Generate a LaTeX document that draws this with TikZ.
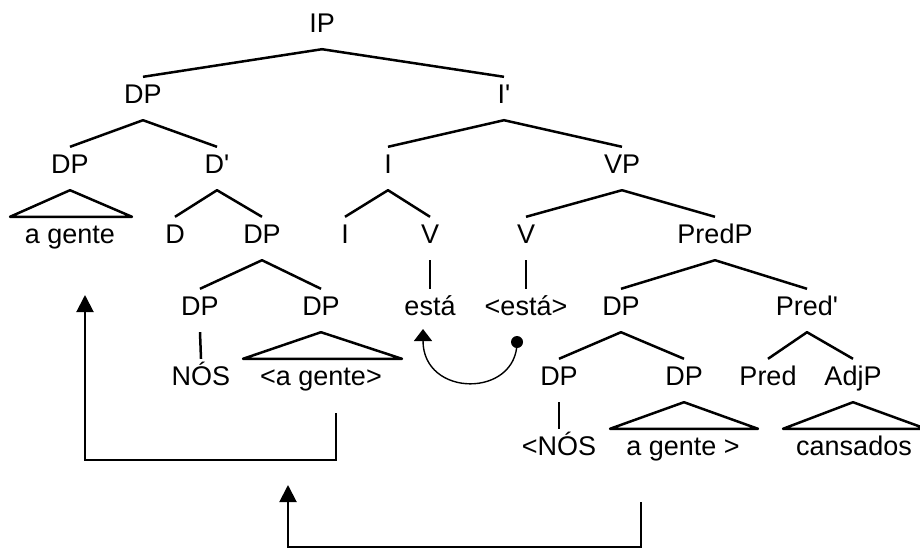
\documentclass[tikz,border=0pt]{standalone}
\usepackage{fontspec}
\setmainfont{Liberation Sans}[Ligatures=TeXOff]
\usetikzlibrary{arrows.meta,calc}
\begin{document}
\begin{tikzpicture}[x=1pt,y=-1pt,
  lab/.style={inner xsep=0pt, inner ysep=4pt, text height=22pt, text depth=13pt,
              anchor=base, font=\fontsize{27}{31}\selectfont},
  br/.style={line width=2.5pt, line join=round},
  mv/.style={line width=2pt, -{Triangle[width=17pt,length=17pt]}},
  mvarc/.style={line width=1.4pt, -{Triangle[width=18pt,length=12pt]}}]
\useasboundingbox (0,0) rectangle (920,550);
% row 1
\node[lab] (IP) at (322,32) {IP};
% row 2
\node[lab] (DPa) at (143,103) {DP};
\node[lab] (Ib) at (504,103) {I'};
% row 3
\node[lab] (DPb) at (70,173) {DP};
\node[lab] (Dbar) at (217,173) {D'};
\node[lab] (Ic) at (388,173) {I};
\node[lab] (VP) at (622,173) {VP};
% row 4
\node[lab] (ag1) at (70,243) {a gente};
\node[lab] (D) at (175,243) {D};
\node[lab] (DPc) at (262,243) {DP};
\node[lab] (Id) at (345,243) {I};
\node[lab] (Vd) at (430,243) {V};
\node[lab] (Ve) at (526,243) {V};
\node[lab] (PredP) at (715,243) {PredP};
% row 5
\node[lab] (DPd) at (200,315) {DP};
\node[lab] (DPe) at (321,315) {DP};
\node[lab] (esta) at (430,315) {está};
\node[lab] (esta2) at (526,315) {<está>};
\node[lab] (DPf) at (621,315) {DP};
\node[lab] (Predbar) at (807,315) {Pred'};
% row 6
\node[lab] (nos) at (201,385) {NÓS};
\node[lab] (ag2) at (321,385) {<a gente>};
\node[lab] (DPg) at (559,385) {DP};
\node[lab] (DPh) at (684,385) {DP};
\node[lab] (Pred) at (768,385) {Pred};
\node[lab] (AdjP) at (853,385) {AdjP};
% row 7
\node[lab] (nos2) at (559,455) {<NÓS};
\node[lab] (ag3) at (683,455) {a gente >};
\node[lab] (cans) at (854,455) {cansados};
% branches
\draw[br] (DPa.north) -- (IP.south) -- (Ib.north);
\draw[br] (DPb.north) -- (DPa.south) -- (Dbar.north);
\draw[br] (Ic.north) -- (Ib.south) -- (VP.north);
\draw[br] (D.north) -- (Dbar.south) -- (DPc.north);
\draw[br] (Id.north) -- (Ic.south) -- (Vd.north);
\draw[br] (Ve.north) -- (VP.south) -- (PredP.north);
\draw[br] (DPd.north) -- (DPc.south) -- (DPe.north);
\draw[br] (DPf.north) -- (PredP.south) -- (Predbar.north);
\draw[br] (DPg.north) -- (DPf.south) -- (DPh.north);
\draw[br] (Pred.north) -- (Predbar.south) -- (AdjP.north);
% unary
\draw[br] (Vd.south) -- (esta.north);
\draw[br] (Ve.south) -- (esta2.north);
\draw[br] (DPd.south) -- (nos.north);
\draw[br] (DPg.south) -- (nos2.north);
% triangles
\draw[br] ($(ag1.north)+(-60,0)$) -- (DPb.south) -- ($(ag1.north)+(62,0)$) -- cycle;
\draw[br] ($(ag2.north)+(-78,0)$) -- (DPe.south) -- ($(ag2.north)+(81,0)$) -- cycle;
\draw[br] ($(ag3.north)+(-73,0)$) -- (DPh.south) -- ($(ag3.north)+(75,0)$) -- cycle;
\draw[br] ($(cans.north)+(-71,0)$) -- (AdjP.south) -- ($(cans.north)+(72,0)$) -- cycle;
% head movement arc
\coordinate (dot) at (517,342);
\coordinate (arrtip) at (423,329);
\fill (dot) circle (6pt);
\draw[mvarc] (dot) .. controls (517,398) and (423,398) .. (arrtip);
% DP movements
\coordinate (m1s) at (336,413);
\coordinate (m1e) at (85,295);
\draw[mv] (m1s) -- (336,460) -| (m1e);
\coordinate (m2s) at (641,502);
\coordinate (m2e) at (288,485);
\draw[mv] (m2s) -- (641,547) -| (m2e);
\end{tikzpicture}
\end{document}
